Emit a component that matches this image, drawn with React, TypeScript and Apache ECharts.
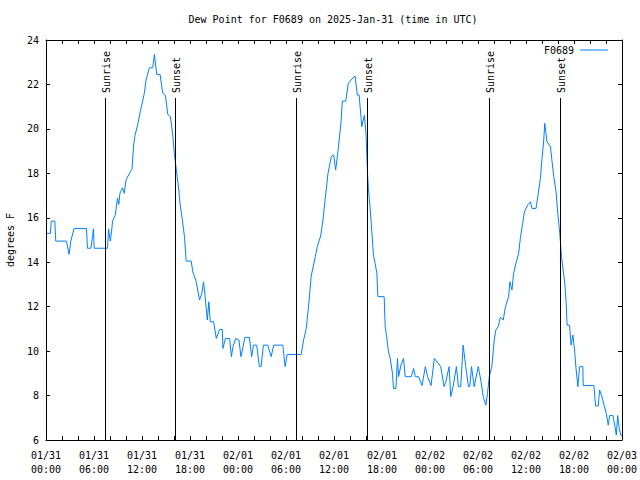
import React, { useEffect, useRef } from "react";
import * as echarts from "echarts";

// hours since 2025-01-31 00:00 UTC
const hours = [
  0.1, 0.55, 0.66, 1.1, 1.22, 2.55, 2.89, 3.1, 3.51, 5.06, 5.18, 5.61, 5.8, 5.93, 6.02, 7.69, 7.82, 8.03, 8.2, 8.32,
  8.66, 8.94, 9.1, 9.24, 9.57, 9.78, 10.0, 10.54, 10.75, 10.95, 11.13, 11.45, 11.79, 12.29, 12.5, 12.92, 13.34, 13.55, 13.84, 14.26,
  14.59, 14.93, 15.22, 15.55, 15.84, 16.06, 16.27, 16.6, 16.77, 17.02, 17.31, 17.52, 18.15, 18.35, 18.78, 19.19, 19.48, 19.69, 19.91, 20.16,
  20.36, 20.53, 20.95, 21.29, 21.7, 22.04, 22.12, 22.42, 22.96, 23.17, 23.37, 23.71, 24.12, 24.37, 24.87, 25.42, 25.71, 25.93, 26.34, 26.56,
  26.68, 26.88, 27.18, 27.72, 28.14, 28.47, 29.6, 29.89, 30.14, 31.9, 32.2, 32.53, 32.87, 33.15, 33.66, 33.91, 34.33, 34.62, 34.91, 35.25,
  35.66, 35.96, 36.21, 36.54, 36.88, 37.04, 37.47, 37.79, 38.13, 38.63, 38.92, 39.14, 39.39, 39.47, 39.8, 40.01, 40.18, 40.3, 40.52, 40.73,
  40.93, 41.14, 41.36, 41.48, 42.27, 42.4, 42.61, 42.81, 43.03, 43.31, 43.44, 43.74, 43.94, 44.07, 44.37, 44.69, 44.91, 45.66, 45.95, 46.16,
  46.57, 47.0, 47.42, 47.7, 48.13, 48.54, 48.92, 49.34, 49.76, 49.96, 50.39, 50.59, 50.89, 51.3, 51.55, 51.84, 52.14, 52.47, 52.81, 52.97,
  53.19, 53.52, 54.03, 54.35, 54.65, 54.98, 55.19, 55.41, 55.73, 56.03, 56.23, 56.53, 56.79, 57.16, 57.41, 57.83, 57.99, 58.24, 58.45, 58.74,
  59.08, 59.29, 59.58, 59.8, 60.21, 60.55, 60.75, 61.25, 61.5, 61.8, 62.0, 62.22, 62.34, 62.63, 63.06, 63.26, 63.47, 63.76, 63.97, 64.22,
  64.44, 64.64, 64.85, 65.02, 65.14, 65.44, 65.64, 65.86, 66.07, 66.27, 66.48, 66.7, 67.11, 67.15, 68.49, 68.7, 69.03, 69.2, 69.45, 69.74,
  70.03, 70.28, 70.46, 70.87, 71.12, 71.29, 71.46, 71.62, 71.84, 72.0,
];

const dewF = [
  15.3, 15.3, 15.85, 15.85, 14.95, 14.95, 14.35, 14.95, 15.52, 15.52, 14.63, 14.63, 15.1, 15.5, 14.63, 14.63, 15.5, 14.95, 15.4, 15.85,
  16.12, 16.88, 16.6, 17.1, 17.35, 17.1, 17.7, 18.07, 18.2, 19.27, 19.72, 20.17, 20.78, 21.6, 22.2, 22.75, 22.75, 23.35, 22.45, 22.45,
  21.6, 21.5, 20.65, 20.55, 19.72, 18.83, 18.23, 17.25, 16.57, 15.97, 15.15, 14.05, 14.05, 13.57, 13.12, 12.3, 12.6, 13.12, 12.4, 11.4,
  12.22, 11.32, 11.32, 10.57, 10.97, 10.97, 10.12, 10.57, 10.57, 9.75, 10.2, 10.57, 10.5, 9.75, 10.62, 10.62, 9.75, 10.27, 10.27, 9.6,
  9.3, 9.3, 10.27, 10.27, 9.75, 10.27, 10.27, 9.3, 9.85, 9.85, 10.5, 11.02, 12.22, 13.38, 14.25, 14.7, 15.18, 15.9, 16.88, 18.0,
  18.75, 18.83, 18.15, 19.12, 20.32, 21.25, 21.25, 22.05, 22.2, 22.38, 21.52, 21.52, 20.47, 20.1, 20.62, 19.72, 18.07, 17.32, 16.42, 15.37,
  14.32, 13.95, 13.5, 12.45, 12.45, 11.1, 10.57, 9.97, 9.67, 9.0, 8.32, 8.32, 9.67, 8.85, 9.37, 9.67, 8.85, 8.85, 9.22, 8.85,
  8.85, 8.45, 9.3, 8.85, 8.45, 9.67, 9.5, 9.3, 8.4, 8.6, 9.3, 7.95, 8.4, 9.3, 8.4, 8.4, 10.27, 9.3, 8.4, 8.4,
  9.3, 8.4, 9.3, 8.7, 7.95, 7.57, 8.1, 8.85, 9.3, 10.5, 10.95, 11.1, 11.52, 11.4, 11.97, 12.45, 13.12, 12.75, 13.5, 13.95,
  14.4, 15.07, 15.75, 16.27, 16.57, 16.72, 16.42, 16.42, 17.02, 17.77, 18.67, 19.5, 20.25, 19.42, 19.2, 18.52, 17.85, 17.17, 16.2, 15.3,
  14.25, 13.65, 13.05, 12.15, 11.17, 11.17, 10.27, 10.72, 10.05, 9.15, 8.4, 9.3, 9.3, 8.45, 8.45, 7.53, 7.53, 8.25, 8.0, 7.6,
  7.2, 6.67, 7.1, 7.1, 6.6, 6.22, 7.1, 6.6, 6.22, 6.2,
];

const sunHours = [7.36, 16.13, 31.28, 40.17, 55.32, 64.21];
const sunLabels = ["Sunrise", "Sunset", "Sunrise", "Sunset", "Sunrise", "Sunset"];

const xTickLabels = [
  "01/31\n00:00", "01/31\n06:00", "01/31\n12:00", "01/31\n18:00",
  "02/01\n00:00", "02/01\n06:00", "02/01\n12:00", "02/01\n18:00",
  "02/02\n00:00", "02/02\n06:00", "02/02\n12:00", "02/02\n18:00",
  "02/03\n00:00",
];

const seriesName = "F0689";
const titleText = "Dew Point for F0689 on 2025-Jan-31 (time in UTC)";
const yName = "degrees F";

const FONT = "'DejaVu Sans Mono', 'Liberation Mono', monospace";

export default function App() {
  const ref = useRef<HTMLDivElement>(null);
  useEffect(() => {
    if (!ref.current) return;
    const chart = echarts.init(ref.current, undefined, { renderer: "svg" });
    const yMin = 6;
    const yMax = 24;
    const axisBase = {
      axisLine: { show: true, onZero: false, lineStyle: { color: "#000", width: 1 } },
      axisTick: { show: true, inside: true, length: 4, lineStyle: { color: "#000" } },
      splitLine: { show: false },
    };
    chart.setOption({
      animation: false,
      backgroundColor: "#fff",
      textStyle: { fontFamily: FONT },
      grid: { left: 46, right: 18, top: 40, bottom: 40, containLabel: false, outerBoundsMode: "none" },
      graphic: [
        {
          type: "text",
          x: 333,
          y: 19,
          style: {
            text: titleText,
            fill: "#000",
            fontFamily: FONT,
            fontSize: 10,
            align: "center",
            verticalAlign: "middle",
          },
        },
      ],
      legend: {
        data: [{ name: seriesName, icon: "rect" }],
        right: 27,
        top: 40,
        align: "right",
        itemWidth: 28,
        itemHeight: 1,
        itemGap: 0,
        textStyle: { fontFamily: FONT, fontSize: 10, color: "#000", padding: [0, 1, 0, 0] },
        selectedMode: false,
      },
      xAxis: [
        {
          type: "value",
          position: "bottom",
          min: 0,
          max: 72,
          interval: 6,
          ...axisBase,
          minorTick: { show: true, splitNumber: 3, length: 4, lineStyle: { color: "#000" } },
          axisLabel: {
            formatter: (v: number) => xTickLabels[Math.round(v / 6)] ?? "",
            color: "#000",
            fontFamily: FONT,
            fontSize: 10,
            lineHeight: 14,
            margin: 8,
          },
        },
        {
          type: "value",
          position: "top",
          min: 0,
          max: 72,
          interval: 6,
          ...axisBase,
          minorTick: { show: true, splitNumber: 3, length: 4, lineStyle: { color: "#000" } },
          axisLabel: { show: false },
        },
      ],
      yAxis: [
        {
          type: "value",
          position: "left",
          min: yMin,
          max: yMax,
          interval: 2,
          ...axisBase,
          name: yName,
          nameLocation: "middle",
          nameRotate: 90,
          nameGap: 31,
          nameTextStyle: { color: "#000", fontFamily: FONT, fontSize: 10 },
          axisLabel: { color: "#000", fontFamily: FONT, fontSize: 10, margin: 7 },
        },
        {
          type: "value",
          position: "right",
          min: yMin,
          max: yMax,
          interval: 2,
          ...axisBase,
          axisLabel: { show: false },
        },
      ],
      series: [
        {
          name: seriesName,
          type: "line",
          xAxisIndex: 0,
          yAxisIndex: 0,
          data: hours.map((h, i) => [h, dewF[i]]),
          showSymbol: false,
          symbol: "none",
          lineStyle: { color: "#0080ff", width: 1 },
          itemStyle: { color: "#0080ff" },
          z: 2,
        },
        {
          name: "sun",
          type: "custom",
          xAxisIndex: 0,
          yAxisIndex: 0,
          clip: false,
          z: 3,
          data: sunHours.map((h) => [h, yMin]),
          renderItem: (params: any, api: any) => {
            const h = api.value(0);
            const b = api.coord([h, yMin]);
            const t = api.coord([h, yMax]);
            const lineTop = b[1] - 0.855 * (b[1] - t[1]);
            const x = Math.round(b[0]) + 0.5;
            return {
              type: "group",
              children: [
                {
                  type: "line",
                  shape: { x1: x, y1: lineTop, x2: x, y2: b[1] },
                  style: { stroke: "#000", lineWidth: 1 },
                },
                {
                  type: "text",
                  x: x + 0.5,
                  y: lineTop - 5,
                  rotation: Math.PI / 2,
                  style: {
                    text: sunLabels[params.dataIndex],
                    fill: "#000",
                    fontFamily: FONT,
                    fontSize: 10,
                    align: "left",
                    verticalAlign: "middle",
                  },
                },
              ],
            };
          },
        },
      ],
    });
    return () => chart.dispose();
  }, []);
  return <div ref={ref} style={{ width: 640, height: 480, position: "absolute", left: 0, top: 0 }} />;
}
